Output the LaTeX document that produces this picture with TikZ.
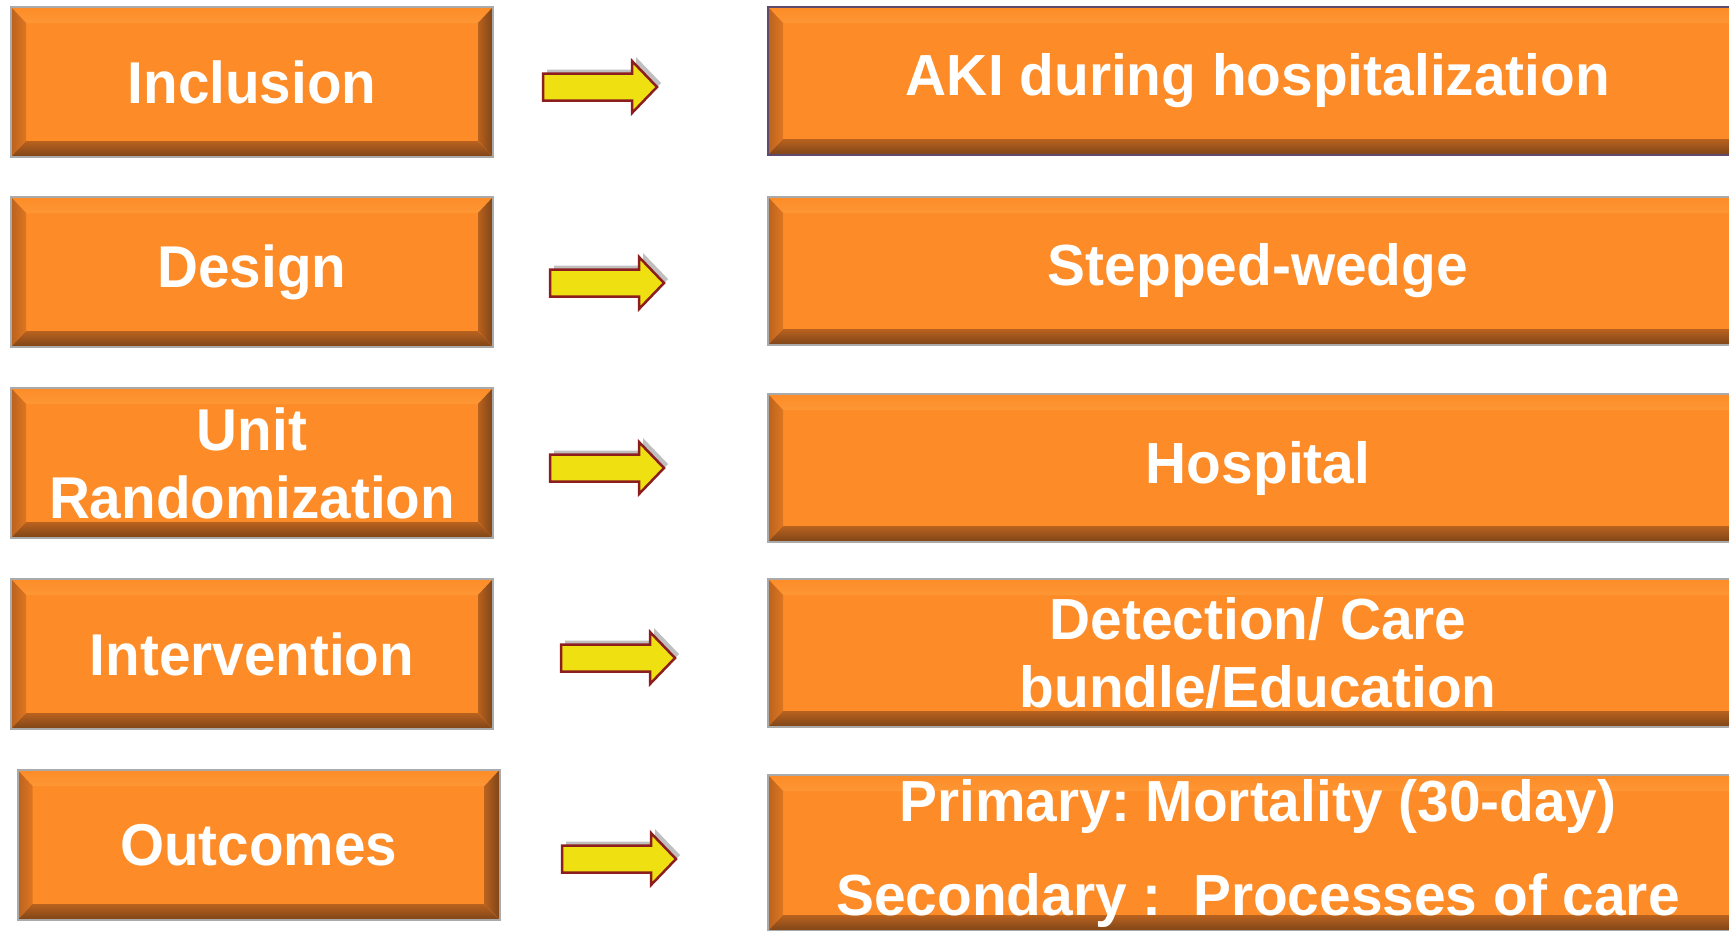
\documentclass[tikz,border=0pt]{standalone}
\usepackage{fontspec}
\setmainfont{Liberation Sans}
\newfontfamily\stepfont{Liberation Sans}[FakeStretch=0.96]
\newfontfamily\itemfont{Liberation Sans}[FakeStretch=0.98]
\usetikzlibrary{calc,shadows}
\definecolor{boxorange}{RGB}{253,140,40}
\definecolor{bevlight}{RGB}{255,190,95}
\definecolor{bevside}{RGB}{222,118,34}
\definecolor{bevdark}{RGB}{125,68,24}
\definecolor{bevmid}{RGB}{185,98,30}
\definecolor{rimgray}{RGB}{170,170,170}
\definecolor{rimpurple}{RGB}{95,75,110}
\definecolor{arrowyellow}{RGB}{238,224,17}
\definecolor{arrowred}{RGB}{140,30,30}

\begin{document}
\begin{tikzpicture}[x=1pt,y=-1pt,
  bevelled/.style={path picture={
    \fill[top color=boxorange,bottom color=boxorange,middle color=bevlight] (path picture bounding box.north west) -- (path picture bounding box.north east) -- ([xshift=-15pt,yshift=-16pt]path picture bounding box.north east) -- ([xshift=15pt,yshift=-16pt]path picture bounding box.north west) -- cycle;
    \fill[left color=bevmid,right color=bevside] (path picture bounding box.north west) -- ([xshift=15pt,yshift=-16pt]path picture bounding box.north west) -- ([xshift=15pt,yshift=16pt]path picture bounding box.south west) -- (path picture bounding box.south west) -- cycle;
    \fill[left color=bevmid,right color=bevdark] (path picture bounding box.north east) -- ([xshift=-15pt,yshift=-16pt]path picture bounding box.north east) -- ([xshift=-15pt,yshift=16pt]path picture bounding box.south east) -- (path picture bounding box.south east) -- cycle;
    \fill[top color=bevmid,bottom color=bevdark] (path picture bounding box.south west) -- ([xshift=15pt,yshift=16pt]path picture bounding box.south west) -- ([xshift=-15pt,yshift=16pt]path picture bounding box.south east) -- (path picture bounding box.south east) -- cycle;
  }},
  stepbox/.style={bevelled,draw=rimgray,line width=2pt,fill=boxorange,inner sep=0pt,text=white,align=center,minimum width=482pt,minimum height=150pt,font=\stepfont\bfseries\fontsize{59}{68}\selectfont\frenchspacing},
  itembox/.style={bevelled,draw=rimgray,line width=2pt,fill=boxorange,inner sep=0pt,text=white,align=center,minimum width=980pt,minimum height=148pt,font=\itemfont\bfseries\fontsize{58}{68}\selectfont\frenchspacing},
  blockarrow/.style={draw=arrowred,line width=2.5pt,fill=arrowyellow,line join=miter,drop shadow={shadow xshift=4pt,shadow yshift=4pt,opacity=.25,fill=black}}]
\useasboundingbox (0,0) rectangle (1729,930);
\clip (0,0) rectangle (1729,930);
\node[stepbox] (incl) at (252,82) {Inclusion};
\node[stepbox] (dsgn) at (252,272) {Design};
\node[stepbox] (unit) at (252,463) {Unit\\Randomization};
\node[stepbox] (intv) at (252,654) {Intervention};
\node[stepbox] (outc) at (258.5,845) {Outcomes};
\node[itembox,draw=rimpurple] (aki) at (1258,81) {AKI during hospitalization};
\node[itembox] (wedge) at (1258,271) {Stepped-wedge};
\node[itembox] (hosp) at (1258,468) {Hospital};
\node[itembox] (bndl) at (1258,653) {Detection/ Care\\bundle/Education};
\node[itembox,minimum height=156pt] (prim) at (1258,853) {Primary: Mortality (30-day)\\[26pt]Secondary :\ \ Processes of care};
\foreach \x/\y in {543/87,550/283,550/468,561/658,562/859}
  \draw[blockarrow] (\x,\y) -- ++(0,-13.5) -- ++(89,0) -- ++(0,-12.5) -- ++(25,26) -- ++(-25,26) -- ++(0,-12.5) -- ++(-89,0) -- cycle;
\end{tikzpicture}
\end{document}
